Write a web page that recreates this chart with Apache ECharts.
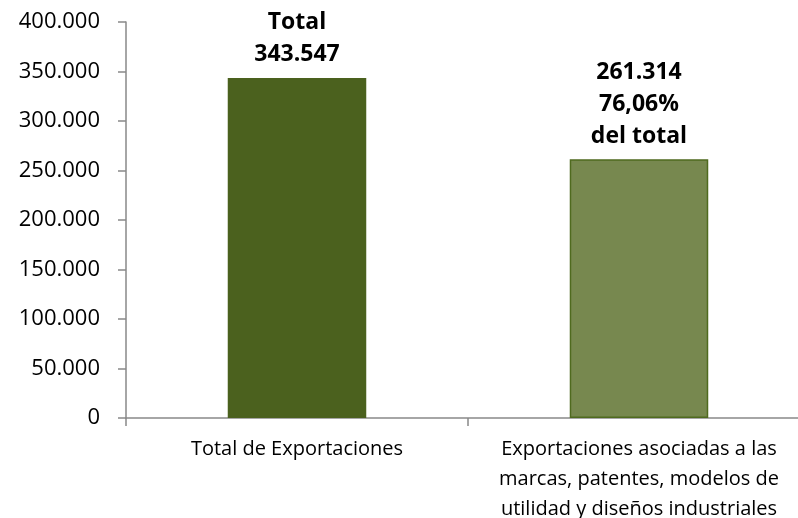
<!DOCTYPE html>
<html>
<head>
<meta charset="utf-8">
<script src="https://cdn.jsdelivr.net/npm/echarts@6/dist/echarts.min.js"></script>
<style>
  html, body { margin: 0; padding: 0; background: #fff; }
  #chart { width: 798px; height: 518px; }
</style>
</head>
<body>
<div id="chart"></div>
<script>
// categorías y valores
var categorias = ['Total de Exportaciones',
    'Exportaciones asociadas a las\nmarcas, patentes, modelos de\nutilidad y diseños industriales'];
var valores = [343547, 261314];
var etiquetas = ['Total\n343.547', '261.314\n76,06%\ndel total'];
var colores = ['#4B611E', '#77884F'];
var bordes = ['#4B611E', '#4F6A1F'];

var fuente = '"Open Sans", sans-serif';

function formatoMiles(v) {
    return String(v).replace(/\B(?=(\d{3})+(?!\d))/g, '.');
}

var _chart = echarts.init(document.getElementById('chart'));
_chart.setOption({
    animation: false,
    grid: {
        left: 126,
        right: -12,
        top: 22,
        bottom: 100,
        outerBoundsMode: 'none'
    },
    xAxis: {
        type: 'category',
        data: categorias,
        axisLine: { lineStyle: { color: '#898989', width: 1.5 } },
        axisTick: { show: true, length: 8, lineStyle: { color: '#898989', width: 1.5 } },
        axisLabel: {
            interval: 0,
            hideOverlap: false,
            color: '#000',
            fontFamily: fuente,
            fontSize: 20,
            lineHeight: 30,
            margin: 16
        }
    },
    yAxis: {
        type: 'value',
        min: 0,
        max: 400000,
        interval: 50000,
        splitLine: { show: false },
        axisLine: { show: true, lineStyle: { color: '#898989', width: 1.5 } },
        axisTick: { show: true, length: 8, lineStyle: { color: '#898989', width: 1.5 } },
        axisLabel: {
            color: '#000',
            fontFamily: fuente,
            fontSize: 22,
            margin: 26,
            formatter: formatoMiles
        }
    },
    series: [
        {
            type: 'bar',
            barWidth: '40.5%',
            data: valores.map(function (v, i) {
                return {
                    value: v,
                    itemStyle: { color: colores[i], borderColor: bordes[i], borderWidth: 1.5 },
                    label: { formatter: etiquetas[i] }
                };
            }),
            label: {
                show: true,
                position: 'top',
                distance: 7,
                color: '#000',
                fontFamily: fuente,
                fontSize: 23,
                fontWeight: 'bold',
                lineHeight: 32,
                align: 'center'
            }
        }
    ]
});
</script>
</body>
</html>
